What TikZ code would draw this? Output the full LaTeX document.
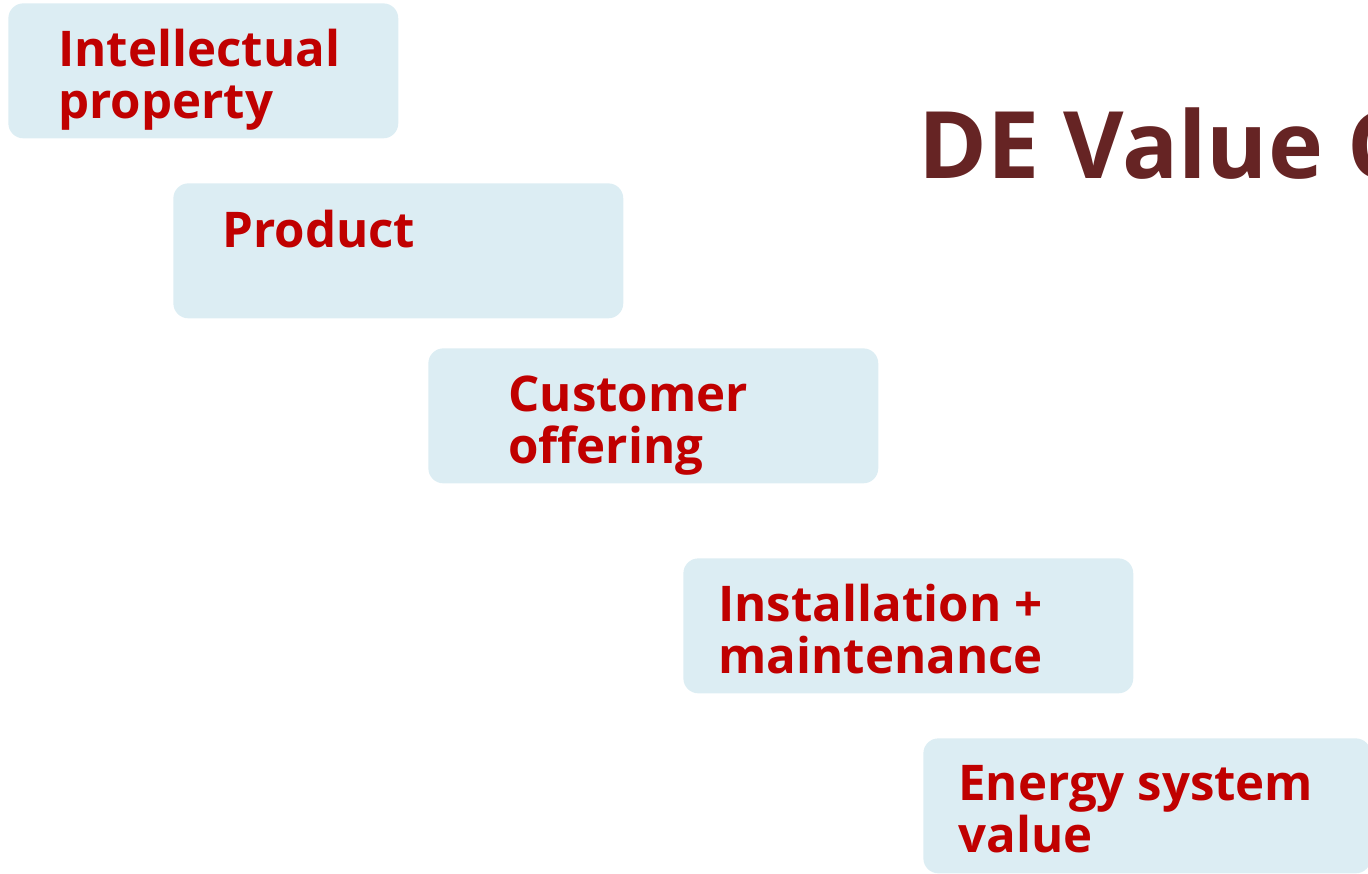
\documentclass[tikz,border=0pt]{standalone}
\usepackage{fontspec}
\setmainfont{Open Sans}
\usetikzlibrary{positioning}

\definecolor{boxblue}{HTML}{DCEDF3}
\definecolor{valred}{HTML}{C00000}
\definecolor{titlebrown}{HTML}{662424}

\tikzset{
  valbox/.style={fill=boxblue, draw=none, rounded corners=0.3cm, anchor=north west,
    minimum width=9cm, minimum height=2.7cm, inner sep=0pt},
  valtext/.style={text=valred, font=\bfseries\fontsize{28}{29.5}\selectfont,
    align=left, anchor=base west, inner sep=0pt},
}

\begin{document}
\begin{tikzpicture}[x=0.02cm, y=0.02cm]
\useasboundingbox (0,0) rectangle (1368,-873);

% Boxes of the chain
\node[valbox, minimum width=7.8cm] (ip) at (8,-3) {};
\node[valbox] (prod) at (173,-183) {};
\node[valbox] (offer) at (428,-348) {};
\node[valbox] (inst) at (683,-558) {};
\node[valbox, minimum width=8.95cm] (esv) at (923,-738) {};

% Labels (base = last line)
\node[valtext] (iptext) at ([shift={(50,-115)}]ip.north west) {Intellectual\\property};
\node[valtext] (prodtext) at ([shift={(49,-64)}]prod.north west) {Product};
\node[valtext] (offertext) at ([shift={(80,-115)}]offer.north west) {Customer\\offering};
\node[valtext] (insttext) at ([shift={(35,-115)}]inst.north west) {Installation +\\maintenance};
\node[valtext] (esvtext) at ([shift={(35,-114)}]esv.north west) {Energy system\\value};

% Title
\node[text=titlebrown, font=\bfseries\fontsize{53}{60}\selectfont, anchor=base west,
  inner sep=0pt] (title) at (918,-178) {DE Value C};

\end{tikzpicture}
\end{document}
